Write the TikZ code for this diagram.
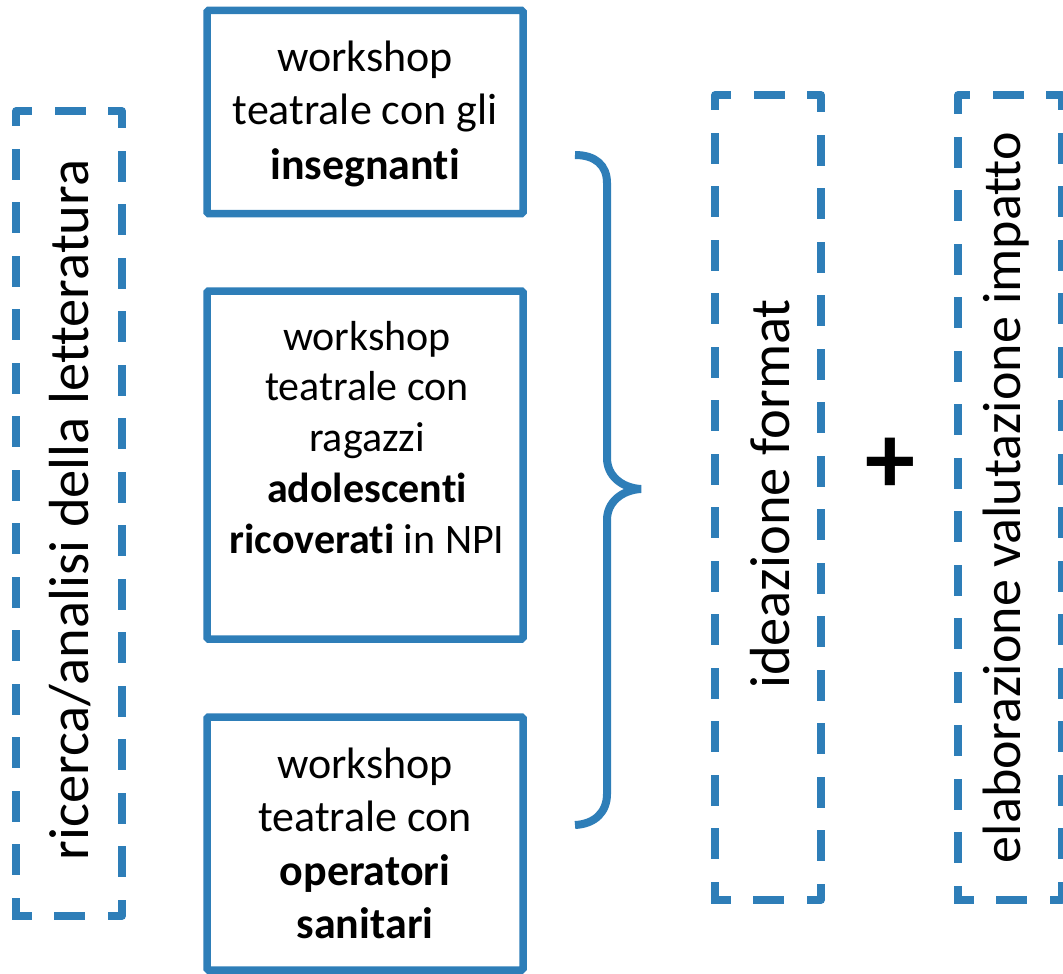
\documentclass[tikz,border=0pt]{standalone}
\usepackage{fontspec}
\setmainfont[Ligatures=NoCommon]{Carlito}
\definecolor{frameblue}{RGB}{46,126,184}
\begin{document}
\begin{tikzpicture}[x=1pt,y=-1pt,
  panel/.style={draw=frameblue, line width=7.5pt, rounded corners=1.5pt,
    inner sep=0pt, minimum width=316pt},
  dashpanel/.style={draw=frameblue, line width=7.5pt, line join=round,
    line cap=rect, dash pattern=on 23.5pt off 30pt, dash phase=11.75pt,
    inner sep=0pt, minimum height=805pt},
  boxtext/.style={anchor=base, inner sep=0pt, text=black},
  sidetext/.style={anchor=base, rotate=90, inner sep=0pt, text=black},
  bracestyle/.style={draw=frameblue, line width=8pt}]
\useasboundingbox (0,0) rectangle (1063,974);

% left column: literature review
\node[dashpanel, minimum width=106pt] (lit) at (69,513.5) {};
\node[sidetext, font=\fontsize{56.5}{68}\selectfont] (litText) at (88,510)
  {ricerca/analisi della letteratura};

% the three theatre workshops
\node[panel, minimum height=203pt] (wsA) at (365,112) {};
\node[panel, minimum height=348pt] (wsB) at (365,465) {};
\node[panel, minimum height=253pt] (wsC) at (365,843.5) {};

\node[boxtext] (wsAText) at (365,71)
  {\fontsize{44}{54}\selectfont\begin{tabular}[t]{@{}c@{}}workshop\\teatrale con gli\\\textbf{insegnanti}\end{tabular}};
\node[boxtext] (wsBText) at (367,350)
  {\fontsize{42}{50.75}\selectfont\begin{tabular}[t]{@{}c@{}}workshop\\teatrale con\\ragazzi\\\textbf{adolescenti}\\\textbf{ricoverati} in NPI\end{tabular}};
\node[boxtext] (wsCText) at (365,778)
  {\fontsize{44}{53.5}\selectfont\begin{tabular}[t]{@{}c@{}}workshop\\teatrale con\\\textbf{operatori}\\\textbf{sanitari}\end{tabular}};

% curly brace gathering the workshops
\coordinate (braceTop) at (575,155);
\coordinate (braceTip) at (641,489);
\coordinate (braceBot) at (575,825);
\draw[bracestyle] (braceTop) .. controls (595,155) and (607,165) .. (607,183)
  -- (607,458) .. controls (607,476) and (622,488) .. (braceTip)
  .. controls (622,490) and (607,502) .. (607,520)
  -- (607,794) .. controls (607,812) and (595,824) .. (braceBot);

% format design
\node[dashpanel, minimum width=106pt] (fmt) at (768,497.5) {};
\node[sidetext, font=\fontsize{56.5}{68}\selectfont] (fmtText) at (789,494)
  {ideazione format};

% plus sign
\node[inner sep=0pt, font=\fontsize{100}{100}\selectfont\bfseries] (plus) at (890,466) {+};

% impact evaluation
\node[dashpanel, minimum width=104pt] (imp) at (1010,497.5) {};
\node[sidetext, font=\fontsize{54}{65}\selectfont] (impText) at (1020,497.5)
  {elaborazione valutazione impatto};
\end{tikzpicture}
\end{document}
